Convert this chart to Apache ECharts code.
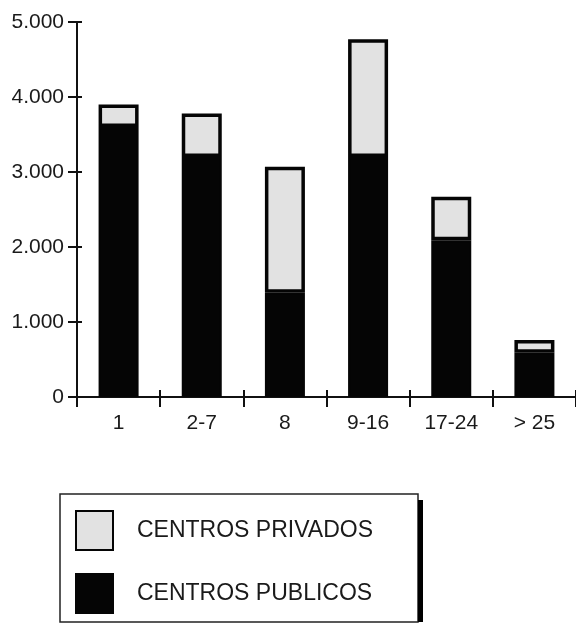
<!DOCTYPE html>
<html>
<head>
<meta charset="utf-8">
<script src="https://cdn.jsdelivr.net/npm/echarts@6/dist/echarts.min.js"></script>
<style>html,body{margin:0;padding:0;background:#fff;}#c{width:576px;height:624px;}</style>
</head>
<body>
<div id="c"></div>
<script>
const categories = ['1', '2-7', '8', '9-16', '17-24', '> 25'];
const publicos = [3600, 3200, 1390, 3200, 2090, 590];
const privados = [300, 580, 1680, 1570, 580, 170];
const yTicks = [0, 1000, 2000, 3000, 4000, 5000];
const seriesNames = ['CENTROS PUBLICOS', 'CENTROS PRIVADOS'];

const FONT = '"Liberation Sans", Arial, sans-serif';
const chart = echarts.init(document.getElementById('c'), null, {renderer: 'canvas'});
const fmt = v => v === 0 ? '0' : (v / 1000).toFixed(0) + '.000';

chart.setOption({
  animation: false,
  backgroundColor: '#fff',
  grid: {left: 77, right: 0, top: 22, bottom: 227},
  xAxis: [{
    type: 'category', data: categories, position: 'bottom',
    axisLine: {lineStyle: {color: '#111', width: 2}},
    axisTick: {show: true, length: 10, alignWithLabel: false, lineStyle: {color: '#111', width: 2}},
    axisLabel: {color: '#1a1a1a', fontSize: 21, fontFamily: FONT, margin: 16}
  }, {
    type: 'category', data: categories, position: 'bottom',
    axisLine: {show: false},
    axisTick: {show: true, inside: true, length: 7, lineStyle: {color: '#111', width: 2}},
    axisLabel: {show: false}
  }],
  yAxis: [{
    type: 'value', min: 0, max: 5000, interval: 1000,
    axisLine: {show: true, lineStyle: {color: '#111', width: 2}},
    axisTick: {show: true, length: 9, lineStyle: {color: '#111', width: 2}},
    splitLine: {show: false},
    axisLabel: {color: '#1a1a1a', fontSize: 21, fontFamily: FONT, margin: 13,
      formatter: v => yTicks.indexOf(v) >= 0 ? fmt(v) : ''}
  }, {
    type: 'value', min: 0, max: 5000, interval: 1000, position: 'left',
    axisLine: {show: false},
    axisTick: {show: true, inside: true, length: 5, lineStyle: {color: '#111', width: 2}},
    splitLine: {show: false},
    axisLabel: {show: false}
  }],
  legend: {
    orient: 'vertical', left: 75, top: 510, padding: 0,
    data: [seriesNames[1], seriesNames[0]],
    itemWidth: 37, itemHeight: 39, itemGap: 22, icon: 'rect',
    textStyle: {color: '#1a1a1a', fontSize: 23, fontFamily: FONT, padding: [0, 0, 0, 19]}
  },
  series: [{
    name: seriesNames[0], type: 'bar', stack: 't', data: publicos, barWidth: 40,
    itemStyle: {color: '#050505', borderColor: '#050505', borderWidth: 2}
  }, {
    name: seriesNames[1], type: 'bar', stack: 't', data: privados, barWidth: 40,
    itemStyle: {color: '#e2e2e2', borderColor: '#050505', borderWidth: 3.5}
  }],
  graphic: [{
    type: 'rect', shape: {x: 60, y: 494, width: 358, height: 128},
    style: {fill: 'none', stroke: '#222', lineWidth: 1.5}, z: 1
  }, {
    type: 'rect', shape: {x: 418, y: 500, width: 5, height: 122},
    style: {fill: '#000'}, z: 1
  }]
});
</script>
</body>
</html>
